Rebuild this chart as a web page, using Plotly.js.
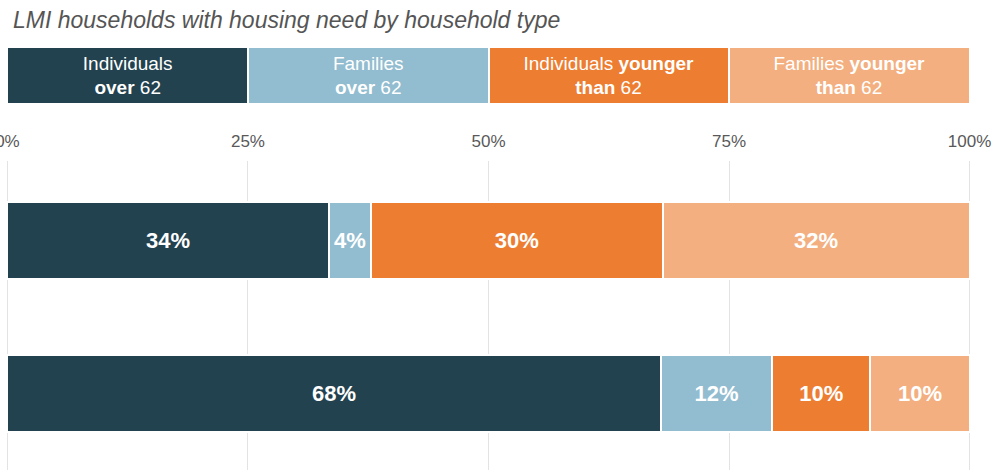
<!DOCTYPE html>
<html>
<head>
<meta charset="utf-8">
<script src="https://cdn.plot.ly/plotly-3.0.1.min.js"></script>
<style>html,body{margin:0;padding:0;background:#fff;}#chart{width:998px;height:470px;}</style>
</head>
<body>
<div id="chart"></div>
<script>
// ---- data ----
const categories = ['Group A', 'Group B'];
const seriesNames = ['Individuals over 62', 'Families over 62', 'Individuals younger than 62', 'Families younger than 62'];
const individualsOver62 = [33.4, 67.9];
const familiesOver62 = [4.4, 11.6];
const individualsYounger62 = [30.3, 10.2];
const familiesYounger62 = [31.9, 10.3];
const individualsOver62Labels = ['34%', '68%'];
const familiesOver62Labels = ['4%', '12%'];
const individualsYounger62Labels = ['30%', '10%'];
const familiesYounger62Labels = ['32%', '10%'];
const legendShares = [25, 25, 25, 25];
const legendLabels = ['Individuals<br><b>over</b> 62', 'Families<br><b>over</b> 62', 'Individuals <b>younger</b><br><b>than</b> 62', 'Families <b>younger</b><br><b>than</b> 62'];
const tickValues = [0, 25, 50, 75, 100];
const tickLabels = ['0%', '25%', '50%', '75%', '100%'];
const titleText = 'LMI households with housing need by household type';

// ---- styles ----
const colors = ['#23424f', '#92bccf', '#ed7d31', '#f3af80'];
const FONT = 'Arial, "Liberation Sans", sans-serif';
const seriesValues = [individualsOver62, familiesOver62, individualsYounger62, familiesYounger62];
const seriesLabels = [individualsOver62Labels, familiesOver62Labels, individualsYounger62Labels, familiesYounger62Labels];

const traces = [];
seriesValues.forEach((vals, i) => {
  traces.push({
    type: 'bar', orientation: 'h',
    x: vals, y: categories,
    name: seriesNames[i],
    text: seriesLabels[i],
    textposition: 'inside', insidetextanchor: 'middle', textangle: 0,
    constraintext: 'none',
    textfont: {family: FONT, size: 22, color: '#ffffff', weight: 'bold'},
    marker: {color: colors[i], line: {color: '#ffffff', width: 2}},
    width: 0.5,
    hoverinfo: 'skip',
    xaxis: 'x', yaxis: 'y'
  });
});
legendShares.forEach((v, i) => {
  traces.push({
    type: 'bar', orientation: 'h',
    x: [v], y: ['legend'],
    name: seriesNames[i] + ' key',
    text: [legendLabels[i]],
    textposition: 'inside', insidetextanchor: 'middle', textangle: 0,
    constraintext: 'none',
    textfont: {family: FONT, size: 19, color: '#ffffff'},
    marker: {color: colors[i], line: {color: '#ffffff', width: 2}},
    width: 1,
    hoverinfo: 'skip',
    xaxis: 'x2', yaxis: 'y2'
  });
});

const layout = {
  width: 998, height: 470,
  margin: {l: 6, r: 27, t: 0, b: 0, pad: 0},
  paper_bgcolor: '#ffffff', plot_bgcolor: '#ffffff',
  barmode: 'stack', showlegend: false,
  font: {family: FONT, color: '#595959'},
  xaxis: {
    range: [-0.15, 100.15], side: 'top', anchor: 'y',
    tickvals: tickValues, ticktext: tickLabels,
    tickfont: {family: FONT, size: 17, color: '#595959'},
    ticklabeloverflow: 'allow',
    showgrid: true, gridcolor: '#e3e3e3', gridwidth: 1,
    zeroline: false, showline: false, ticks: '', ticklabelstandoff: 10,
    fixedrange: true
  },
  yaxis: {
    domain: [0, 0.6574], range: [1.5, -0.52],
    showticklabels: false, showgrid: false, zeroline: false, showline: false,
    fixedrange: true
  },
  xaxis2: {
    range: [-0.15, 100.15], anchor: 'y2', visible: false, fixedrange: true
  },
  yaxis2: {
    domain: [0.7787, 0.9], range: [-0.5, 0.5],
    anchor: 'x2', visible: false, fixedrange: true
  },
  annotations: [{
    text: titleText, xref: 'paper', yref: 'paper',
    x: 0, xshift: 5, y: 1, yshift: -5, xanchor: 'left', yanchor: 'top',
    showarrow: false,
    font: {family: FONT, size: 23, color: '#555555', style: 'italic'}
  }]
};

Plotly.newPlot('chart', traces, layout, {displayModeBar: false, staticPlot: true});
</script>
</body>
</html>
